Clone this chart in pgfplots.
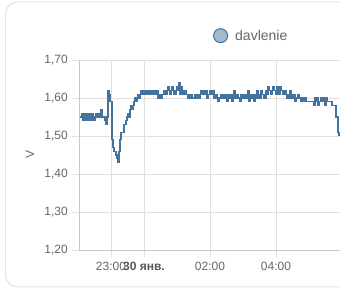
\documentclass[border=0pt]{standalone}
\usepackage{pgfplots}
\pgfplotsset{compat=1.18}
\usepackage{pgfplotstable}
\usepackage{fontspec}
\setmainfont{Liberation Sans}
\definecolor{linecol}{HTML}{44739E}
\definecolor{legfill}{HTML}{A2B9CF}
\definecolor{gridcol}{HTML}{E0E0E0}
\definecolor{axcol}{HTML}{C8C8C8}
\definecolor{txtcol}{HTML}{666666}
\definecolor{cardcol}{HTML}{E3E3E3}

\pgfplotstableread{
t v
-1.939 1.55
-1.879 1.56
-1.848 1.54
-1.818 1.56
-1.788 1.55
-1.758 1.54
-1.727 1.56
-1.697 1.54
-1.667 1.56
-1.636 1.55
-1.606 1.54
-1.576 1.56
-1.545 1.55
-1.515 1.54
-1.485 1.55
-1.455 1.56
-1.424 1.55
-1.364 1.56
-1.333 1.55
-1.303 1.57
-1.273 1.55
-1.182 1.54
-1.152 1.53
-1.121 1.55
-1.091 1.62
-1.061 1.61
-1.030 1.59
-1.000 1.59
-0.970 1.49
-0.939 1.47
-0.909 1.46
-0.848 1.45
-0.818 1.44
-0.788 1.43
-0.758 1.46
-0.727 1.49
-0.697 1.51
-0.606 1.53
-0.545 1.54
-0.515 1.55
-0.485 1.56
-0.455 1.55
-0.424 1.57
-0.394 1.58
-0.364 1.57
-0.333 1.58
-0.303 1.59
-0.273 1.60
-0.242 1.59
-0.212 1.60
-0.182 1.61
-0.152 1.60
-0.121 1.61
-0.091 1.62
-0.061 1.61
-0.030 1.62
0.030 1.61
0.061 1.62
0.121 1.61
0.182 1.62
0.212 1.61
0.273 1.62
0.333 1.61
0.394 1.62
0.424 1.60
0.485 1.61
0.515 1.60
0.545 1.61
0.606 1.62
0.636 1.61
0.697 1.62
0.727 1.63
0.758 1.62
0.788 1.61
0.818 1.62
0.848 1.63
0.879 1.62
0.909 1.61
0.970 1.62
1.000 1.63
1.030 1.62
1.061 1.64
1.091 1.61
1.121 1.63
1.152 1.62
1.182 1.61
1.242 1.62
1.273 1.61
1.333 1.60
1.394 1.61
1.455 1.60
1.545 1.61
1.606 1.60
1.636 1.61
1.667 1.60
1.697 1.61
1.727 1.62
1.788 1.61
1.818 1.62
1.848 1.61
1.879 1.62
1.909 1.60
1.939 1.61
2.000 1.62
2.061 1.61
2.091 1.62
2.121 1.60
2.152 1.61
2.212 1.60
2.242 1.59
2.273 1.60
2.333 1.61
2.364 1.60
2.424 1.61
2.455 1.60
2.485 1.61
2.515 1.59
2.545 1.61
2.576 1.60
2.636 1.61
2.667 1.59
2.697 1.61
2.727 1.62
2.758 1.60
2.788 1.61
2.848 1.60
2.909 1.59
2.939 1.61
2.970 1.60
3.000 1.61
3.030 1.60
3.091 1.61
3.121 1.60
3.152 1.62
3.182 1.59
3.212 1.61
3.273 1.60
3.303 1.61
3.333 1.59
3.364 1.60
3.394 1.61
3.424 1.62
3.455 1.60
3.485 1.61
3.515 1.60
3.545 1.62
3.576 1.61
3.636 1.60
3.697 1.62
3.727 1.61
3.758 1.63
3.788 1.62
3.848 1.61
3.879 1.62
3.909 1.63
3.939 1.62
4.000 1.61
4.030 1.63
4.061 1.62
4.091 1.61
4.121 1.63
4.152 1.62
4.212 1.61
4.242 1.62
4.303 1.61
4.333 1.60
4.364 1.61
4.394 1.60
4.424 1.62
4.455 1.61
4.485 1.60
4.545 1.61
4.576 1.59
4.606 1.60
4.667 1.61
4.697 1.60
4.758 1.59
4.788 1.60
4.818 1.59
4.848 1.60
4.909 1.59
5.152 1.58
5.182 1.60
5.212 1.59
5.242 1.60
5.273 1.58
5.303 1.59
5.364 1.60
5.394 1.59
5.455 1.60
5.485 1.58
5.515 1.60
5.545 1.59
5.636 1.59
5.697 1.58
5.758 1.58
5.818 1.55
5.879 1.51
5.909 1.50
}\datatable

\begin{document}
\begin{tikzpicture}[x=1pt,y=1pt]
\clip (0,0) rectangle (340,291);
\fill[white] (0,0) rectangle (340,291);
\draw[cardcol, line width=1pt, rounded corners=12pt] (5.5,4) rectangle (380,289);
\begin{axis}[
  at={(79pt,41pt)}, anchor=south west,
  width=261pt, height=190pt, scale only axis,
  xmin=-1.97, xmax=5.94,
  ymin=1.2, ymax=1.7,
  ytick={1.2,1.3,1.4,1.5,1.6,1.7},
  xtick={-1,0,2,4},
  xticklabels={23:00,\textbf{\color{txtcol!85!black}30 янв.},02:00,04:00},
  axis x line=bottom, axis y line=left,
  axis line style={-, draw=axcol, line width=0.8pt},
  grid=major,
  major grid style={draw=gridcol, line width=0.8pt},
  tick align=outside,
  major tick length=7pt,
  tick style={draw=gridcol, line width=0.8pt},
  /pgf/number format/fixed,
  /pgf/number format/fixed zerofill,
  /pgf/number format/precision=2,
  /pgf/number format/use comma,
  /pgf/number format/assume math mode=true,
  ticklabel style={font=\fontsize{12}{14}\selectfont, text=txtcol},
  yticklabel style={anchor=east, inner sep=0pt, xshift=-4pt},
  xticklabel style={anchor=base, inner sep=0pt, yshift=-14pt},
  ylabel={V},
  ylabel style={font=\fontsize{12}{14}\selectfont, text=txtcol, at={(axis description cs:-0.188,0.5)}, anchor=center},
  legend style={at={(axis description cs:0.513,1.128)}, anchor=west, draw=none, fill=none, inner sep=0pt,
    font=\fontsize{14}{16}\selectfont, text=txtcol},
  legend image code/.code={\draw[fill=legfill, draw=linecol, line width=1pt] (0pt,0pt) circle (7pt); \path (12pt,0pt);},
  clip=true,
]
\addplot[const plot, draw=linecol, line width=1.2pt] table[x=t, y=v] {\datatable};
\addlegendentry{davlenie}
\end{axis}
\end{tikzpicture}
\end{document}
